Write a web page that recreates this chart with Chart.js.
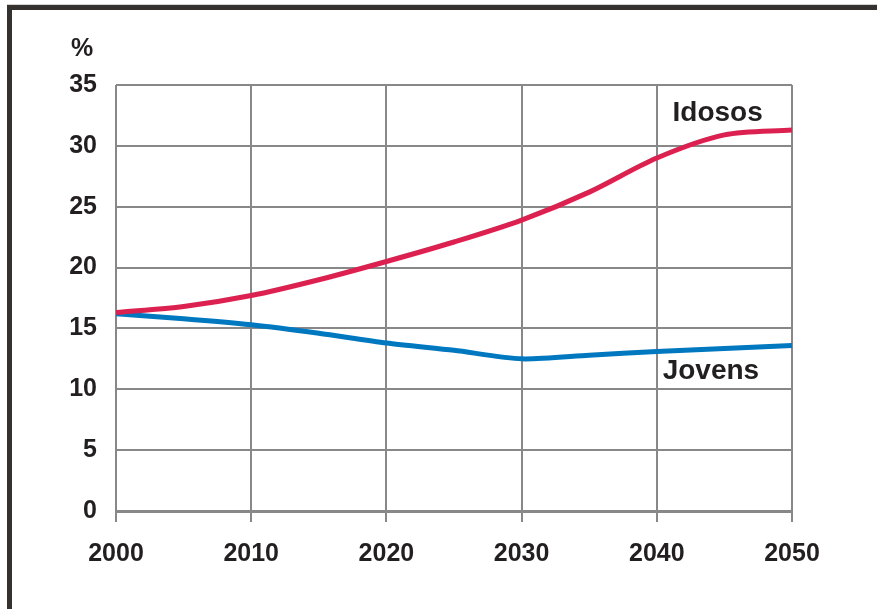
<!DOCTYPE html>
<html>
<head>
<meta charset="utf-8">
<script src="https://cdn.jsdelivr.net/npm/chart.js@4/dist/chart.umd.min.js"></script>
<style>
  body { margin: 0; background: #fff; }
  #wrap { position: relative; width: 877px; height: 609px; }
  #frame { position: absolute; left: 7px; top: 5px; right: 0; bottom: 0;
           border-left: 5px solid #34312e; border-top: 5px solid #34312e; pointer-events: none; }
  #linha { position: absolute; left: 7px; top: 4px; right: 0; height: 1px; background: #d4d4d4; }
  canvas { position: absolute; left: 0; top: 0; }
</style>
</head>
<body>
<div id="wrap">
  <canvas id="grafico" width="877" height="609"></canvas>
  <div id="linha"></div>
  <div id="frame"></div>
</div>
<script>
// anos e valores (%)
const anos = [2000, 2005, 2010, 2015, 2020, 2025, 2030, 2035, 2040, 2045, 2050];
const idosos = [16.3, 16.8, 17.7, 19.0, 20.5, 22.1, 23.9, 26.2, 29.0, 30.9, 31.3];
const jovens = [16.2, 15.8, 15.3, 14.6, 13.8, 13.2, 12.5, 12.8, 13.1, 13.35, 13.6];
const ticksX = [2000, 2010, 2020, 2030, 2040, 2050];
const rotulos = [
    {texto: "Idosos", ano: 2044.5, valor: 32.7},
    {texto: "Jovens", ano: 2044.0, valor: 11.5}
];

const corTexto = '#231f20';
const fonteBase = '"Liberation Sans", Arial, sans-serif';

const pontos = (arr) => anos.map((a, i) => ({x: a, y: arr[i]}));

const textos = {
    id: 'textos',
    afterDatasetsDraw(chart) {
        const ctx = chart.ctx;
        const sx = chart.scales.x, sy = chart.scales.y;
        ctx.save();
        ctx.fillStyle = corTexto;
        ctx.textBaseline = 'middle';
        ctx.textAlign = 'center';
        ctx.font = 'bold 25px ' + fonteBase;
        ctx.fillText('%', 82, 49);
        ctx.font = 'bold 28px ' + fonteBase;
        rotulos.forEach(r => {
            ctx.fillText(r.texto, sx.getPixelForValue(r.ano), sy.getPixelForValue(r.valor));
        });
        ctx.restore();
    }
};

new Chart(document.getElementById('grafico'), {
    type: 'line',
    data: {
        datasets: [
            {label: 'Idosos', data: pontos(idosos), borderColor: '#dc2150', borderWidth: 5,
             pointRadius: 0, tension: 0.3, fill: false},
            {label: 'Jovens', data: pontos(jovens), borderColor: '#0078c0', borderWidth: 5,
             pointRadius: 0, tension: 0.25, fill: false}
        ]
    },
    options: {
        responsive: false,
        animation: false,
        layout: {padding: {left: 0, right: 85, top: 85, bottom: 0}},
        plugins: {legend: {display: false}, tooltip: {enabled: false}},
        scales: {
            x: {
                type: 'linear', min: 2000, max: 2050,
                afterBuildTicks: (ax) => { ax.ticks = ticksX.map(v => ({value: v})); },
                afterFit: (ax) => { ax.height = 98; },
                grid: {color: '#888', lineWidth: 2, drawTicks: true, tickLength: 11, tickColor: '#888'},
                border: {color: '#888', width: 3},
                ticks: {color: corTexto, font: {family: fonteBase, size: 25, weight: 'bold'},
                        padding: 17, maxRotation: 0, callback: v => String(v)}
            },
            y: {
                min: 0, max: 35,
                afterFit: (ax) => { ax.width = 116; },
                grid: {color: '#888', lineWidth: 2, drawTicks: false},
                border: {display: false},
                ticks: {stepSize: 5, color: corTexto, font: {family: fonteBase, size: 25, weight: 'bold'},
                        padding: 19}
            }
        }
    },
    plugins: [textos]
});
</script>
</body>
</html>
